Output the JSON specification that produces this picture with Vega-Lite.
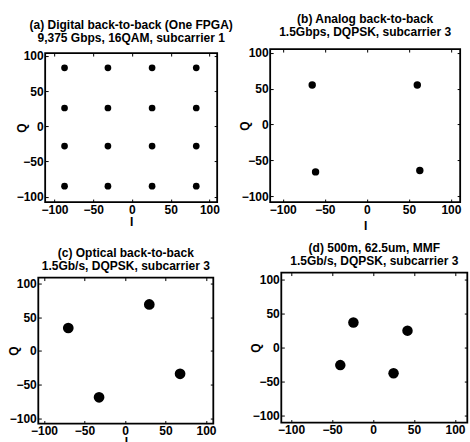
{
  "$schema": "https://vega.github.io/schema/vega-lite/v6.json",
  "background": "white",
  "padding": {"left": 6, "top": 11, "right": 0, "bottom": 0},
  "config": {
    "font": "Liberation Sans",
    "view": {"stroke": "black", "strokeWidth": 1.8},
    "axis": {
      "domain": false, "grid": false,
      "labelFont": "Liberation Sans", "labelFontWeight": "bold", "labelFontSize": 12, "labelColor": "black",
      "titleFont": "Liberation Sans", "titleFontWeight": "bold", "titleFontSize": 12, "titleColor": "black",
      "tickColor": "black", "tickSize": -3, "tickWidth": 1, "labelPadding": 5,
      "values": [-100, -50, 0, 50, 100], "labelFlush": false, "labelOverlap": false
    },
    "title": {"font": "Liberation Sans", "fontWeight": "bold", "fontSize": 12, "color": "black", "lineHeight": 13, "anchor": "middle", "frame": "group"}
  },
  "spacing": 8.5,
  "center": true,
  "vconcat": [
    {
      "spacing": 3,
      "center": true,
      "hconcat": [
        {
          "width": 172, "height": 149,
          "title": {"text": ["(a) Digital back-to-back (One FPGA)", "9,375 Gbps, 16QAM, subcarrier 1"], "offset": 5},
          "data": {"values": [
            {"I": -87, "Q": 83}, {"I": -31, "Q": 83}, {"I": 26, "Q": 83}, {"I": 83, "Q": 83},
            {"I": -87, "Q": 26}, {"I": -31, "Q": 26}, {"I": 26, "Q": 26}, {"I": 83, "Q": 26},
            {"I": -87, "Q": -28}, {"I": -31, "Q": -28}, {"I": 26, "Q": -28}, {"I": 83, "Q": -28},
            {"I": -87, "Q": -85}, {"I": -31, "Q": -85}, {"I": 26, "Q": -85}, {"I": 83, "Q": -85}
          ]},
          "layer": [
            {
              "mark": {"type": "point", "filled": true, "size": 45, "color": "black", "opacity": 1},
              "encoding": {
                "x": {"field": "I", "type": "quantitative", "scale": {"domain": [-112, 110], "nice": false, "zero": false}, "axis": {"title": "I", "titlePadding": 1}},
                "y": {"field": "Q", "type": "quantitative", "scale": {"domain": [-107.5, 104], "nice": false, "zero": false}, "axis": {"title": "Q", "titlePadding": -12}}
              }
            },
            {
              "mark": {"type": "point", "opacity": 0},
              "encoding": {
                "x": {"field": "I", "type": "quantitative", "axis": {"orient": "top", "labels": false, "title": null}},
                "y": {"field": "Q", "type": "quantitative", "axis": {"orient": "right", "labels": false, "title": null}}
              }
            }
          ],
          "resolve": {"axis": {"x": "independent", "y": "independent"}}
        },
        {
          "width": 190, "height": 153,
          "title": {"text": ["(b) Analog back-to-back", "1.5Gbps, DQPSK, subcarrier 3"], "offset": 8},
          "data": {"values": [
            {"I": -65, "Q": 55}, {"I": 60, "Q": 55}, {"I": -61, "Q": -66}, {"I": 63, "Q": -64}
          ]},
          "layer": [
            {
              "mark": {"type": "point", "filled": true, "size": 55, "color": "black", "opacity": 1},
              "encoding": {
                "x": {"field": "I", "type": "quantitative", "scale": {"domain": [-115, 111], "nice": false, "zero": false}, "axis": {"title": "I", "titlePadding": 5}},
                "y": {"field": "Q", "type": "quantitative", "scale": {"domain": [-108, 105], "nice": false, "zero": false}, "axis": {"title": "Q", "titlePadding": -10.5}}
              }
            },
            {
              "mark": {"type": "point", "opacity": 0},
              "encoding": {
                "x": {"field": "I", "type": "quantitative", "axis": {"orient": "top", "labels": false, "title": null}},
                "y": {"field": "Q", "type": "quantitative", "axis": {"orient": "right", "labels": false, "title": null}}
              }
            }
          ],
          "resolve": {"axis": {"x": "independent", "y": "independent"}}
        }
      ]
    },
    {
      "spacing": 31,
      "center": true,
      "hconcat": [
        {
          "width": 175, "height": 146,
          "title": {"text": ["(c) Optical back-to-back", "1.5Gb/s, DQPSK, subcarrier 3"], "offset": 4},
          "data": {"values": [
            {"I": -70, "Q": 34}, {"I": 30, "Q": 69}, {"I": 68, "Q": -34}, {"I": -32, "Q": -69}
          ]},
          "layer": [
            {
              "mark": {"type": "point", "filled": true, "size": 115, "color": "black", "opacity": 1},
              "encoding": {
                "x": {"field": "I", "type": "quantitative", "scale": {"domain": [-107, 109], "nice": false, "zero": false}, "axis": {"title": "I", "titlePadding": 0}},
                "y": {"field": "Q", "type": "quantitative", "scale": {"domain": [-108, 109], "nice": false, "zero": false}, "axis": {"title": "Q", "titlePadding": -11}}
              }
            },
            {
              "mark": {"type": "point", "opacity": 0},
              "encoding": {
                "x": {"field": "I", "type": "quantitative", "axis": {"orient": "top", "labels": false, "title": null}},
                "y": {"field": "Q", "type": "quantitative", "axis": {"orient": "right", "labels": false, "title": null}}
              }
            }
          ],
          "resolve": {"axis": {"x": "independent", "y": "independent"}}
        },
        {
          "width": 186, "height": 150,
          "title": {"text": ["(d) 500m, 62.5um, MMF", "1.5Gb/s, DQPSK, subcarrier 3"], "offset": 4},
          "data": {"values": [
            {"I": -24, "Q": 37}, {"I": 42, "Q": 25}, {"I": -40, "Q": -26}, {"I": 25, "Q": -38}
          ]},
          "layer": [
            {
              "mark": {"type": "point", "filled": true, "size": 110, "color": "black", "opacity": 1},
              "encoding": {
                "x": {"field": "I", "type": "quantitative", "scale": {"domain": [-112, 115], "nice": false, "zero": false}, "axis": {"title": "I", "titlePadding": 6}},
                "y": {"field": "Q", "type": "quantitative", "scale": {"domain": [-111, 111], "nice": false, "zero": false}, "axis": {"title": "Q", "titlePadding": -10}}
              }
            },
            {
              "mark": {"type": "point", "opacity": 0},
              "encoding": {
                "x": {"field": "I", "type": "quantitative", "axis": {"orient": "top", "labels": false, "title": null}},
                "y": {"field": "Q", "type": "quantitative", "axis": {"orient": "right", "labels": false, "title": null}}
              }
            }
          ],
          "resolve": {"axis": {"x": "independent", "y": "independent"}}
        }
      ]
    }
  ]
}
